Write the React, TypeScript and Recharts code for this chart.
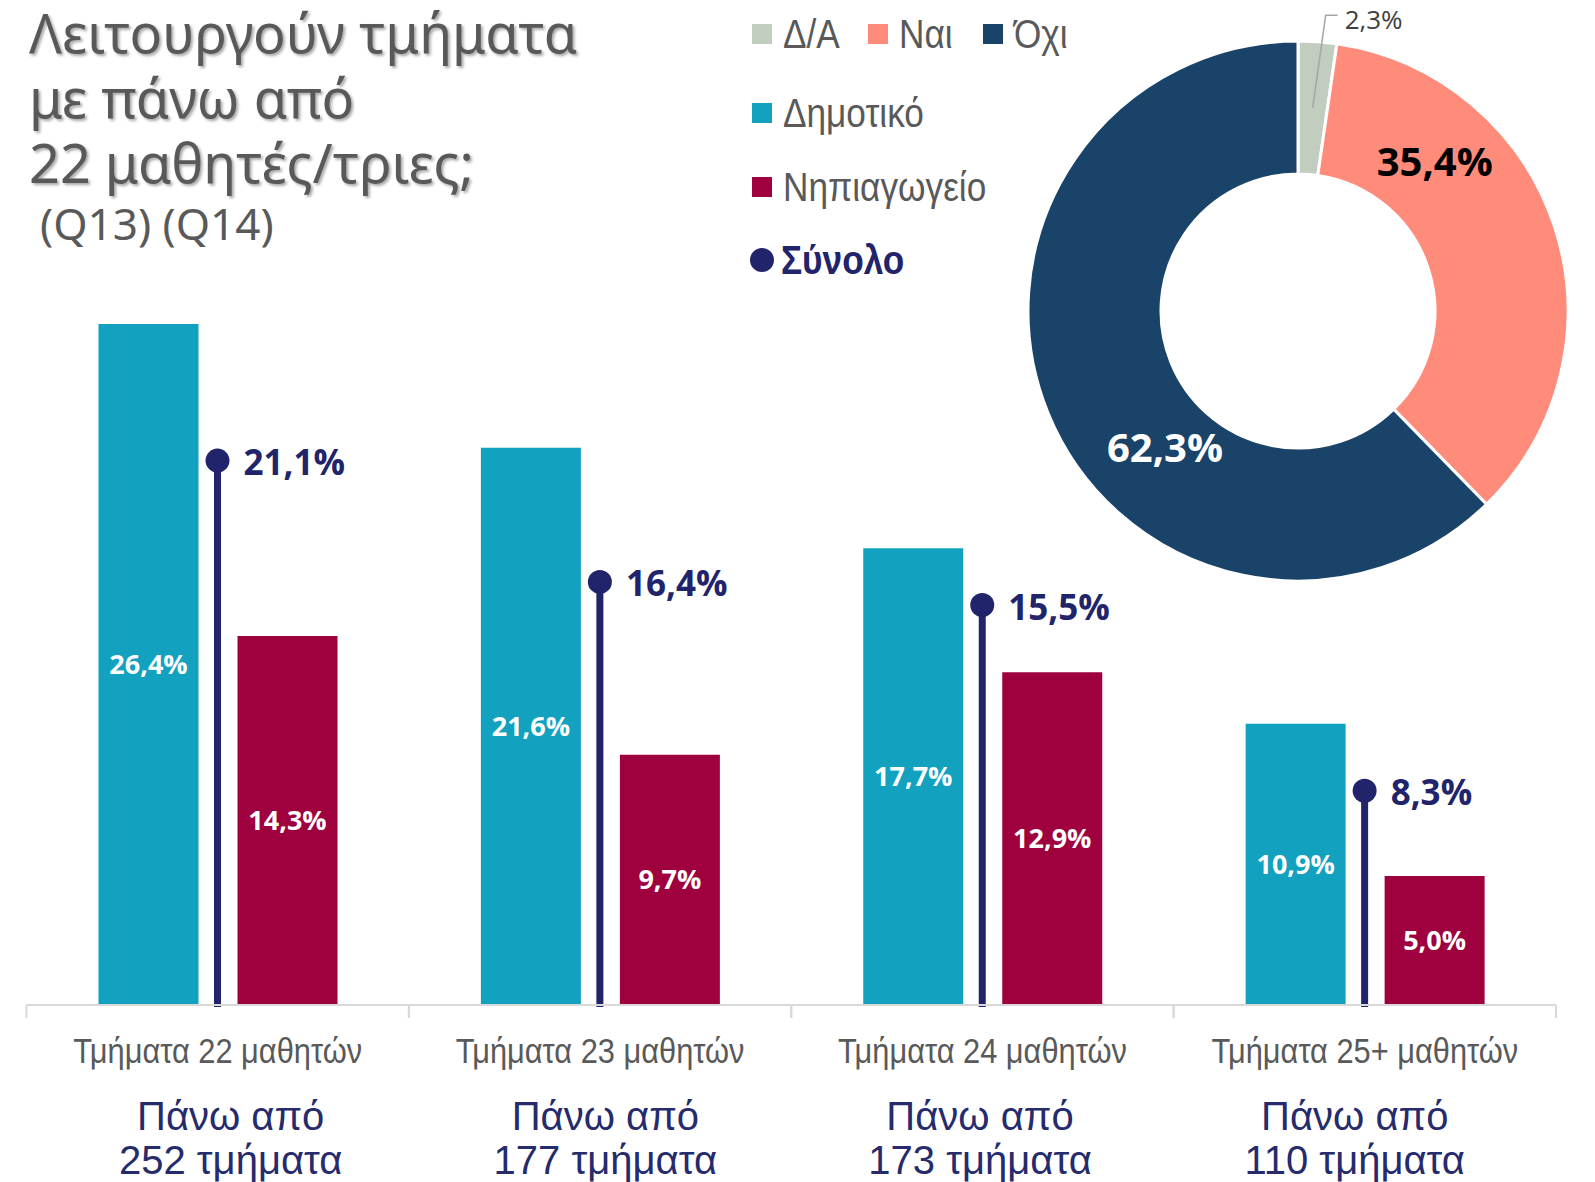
import React from 'react';
import { ComposedChart, Bar, XAxis, YAxis, LabelList, PieChart, Pie, Cell } from 'recharts';

// Ραβδόγραμμα: ποσοστά τμημάτων ανά βαθμίδα
const categories = ['Τμήματα 22 μαθητών', 'Τμήματα 23 μαθητών', 'Τμήματα 24 μαθητών', 'Τμήματα 25+ μαθητών'];
const classCounts = ['252 τμήματα', '177 τμήματα', '173 τμήματα', '110 τμήματα'];
const dimotiko = [26.4, 21.6, 17.7, 10.9];
const nipiagogeio = [14.3, 9.7, 12.9, 5.0];
const synolo = [21.1, 16.4, 15.5, 8.3];

// Ντόνατ: Δ/Α, Ναι, Όχι
const pieNames = ['Δ/Α', 'Ναι', 'Όχι'];
const pieValues = [2.3, 35.4, 62.3];

const C_DIM = '#12A1BF';
const C_NIP = '#9E013D';
const C_TOTAL = '#21246B';
const C_NAVY_TEXT = '#252B6C';
const PIE_COLORS = ['#C1CDBF', '#FF8B7B', '#1A4369'];
const GREY_TEXT = '#595959';
const SANS = "'Liberation Sans', Arial, sans-serif";
const BOLD = "'Open Sans', 'Noto Sans', sans-serif";

const barData = categories.map((cat, i) => ({
  cat,
  dim: dimotiko[i],
  nip: nipiagogeio[i],
  total: synolo[i],
}));

const pieData = pieNames.map((name, i) => ({ name, value: pieValues[i] }));

const fmt = (v: any) => `${Number(v).toFixed(1).replace('.', ',')}%`;

// θέσεις ετικετών στο ντόνατ (γωνία σε μοίρες, θέση μεταξύ εσωτερικής/εξωτερικής ακτίνας)
const pieLabelPos = [
  null,
  { angle: 47.8, r: 0.5, fill: '#000000' },
  { angle: 225.6, r: 0.4, fill: '#FFFFFF' },
];

const RAD = Math.PI / 180;
const polar = (cx: number, cy: number, r: number, a: number) => ({
  x: cx + r * Math.cos(-a * RAD),
  y: cy + r * Math.sin(-a * RAD),
});

const renderPieLabel = (props: any) => {
  const { cx, cy, innerRadius, outerRadius, midAngle, index, value } = props;
  const pos = pieLabelPos[index];
  if (!pos) {
    // μικρό κομμάτι: ετικέτα έξω με γραμμή οδηγό
    const start = polar(cx, cy, (innerRadius + outerRadius) / 2, midAngle);
    const elbow = polar(cx, cy, outerRadius * 1.1, midAngle - 1.2);
    return (
      <g>
        <polyline
          points={`${start.x},${start.y} ${elbow.x},${elbow.y} ${elbow.x + 12},${elbow.y}`}
          fill="none"
          stroke="#A6A6A6"
          strokeWidth={1.5}
        />
        <text x={elbow.x + 19} y={elbow.y + 14} fill="#404040" fontSize={26} fontFamily={BOLD}>
          {fmt(value)}
        </text>
      </g>
    );
  }
  const p = polar(cx, cy, innerRadius + (outerRadius - innerRadius) * pos.r, pos.angle);
  return (
    <text x={p.x} y={p.y} textAnchor="middle" dominantBaseline="central" fill={pos.fill} fontSize={40} fontWeight={700} fontFamily={BOLD}>
      {fmt(value)}
    </text>
  );
};

// Σύνολο: κάθετη γραμμή με κουκκίδα και ετικέτα
const Lollipop = (props: any) => {
  const { x, y, width, height, payload } = props;
  const cx = x + width / 2;
  return (
    <g>
      <line x1={cx} x2={cx} y1={y} y2={y + height + 2} stroke={C_TOTAL} strokeWidth={7} />
      <circle cx={cx} cy={y} r={12} fill={C_TOTAL} />
      <text x={cx + 26} y={y + 1} dominantBaseline="central" fill={C_TOTAL} fontSize={35} fontWeight={700} fontFamily={BOLD}>
        {fmt(payload.total)}
      </text>
    </g>
  );
};

const CategoryTick = (props: any) => {
  const { x, y, payload } = props;
  const idx = categories.indexOf(payload.value);
  const half = payload.offset || 191;
  const shift = 13 - 7.7 * idx;
  return (
    <g>
      <line x1={x - half} x2={x - half} y1={y} y2={y + 13} stroke="#D9D9D9" strokeWidth={2} />
      <line x1={x + half} x2={x + half} y1={y} y2={y + 13} stroke="#D9D9D9" strokeWidth={2} />
      <g transform={`translate(${x}, ${y + 46}) scale(0.88, 1)`}>
        <text x={0} y={0} textAnchor="middle" dominantBaseline="central" fill={GREY_TEXT} fontSize={35} fontFamily={SANS}>
          {payload.value}
        </text>
      </g>
      <text x={x + shift} y={y + 111} textAnchor="middle" dominantBaseline="central" fill={C_NAVY_TEXT} fontSize={40} fontFamily={SANS}>
        Πάνω από
      </text>
      <text x={x + shift} y={y + 155} textAnchor="middle" dominantBaseline="central" fill={C_NAVY_TEXT} fontSize={40} fontFamily={SANS}>
        {classCounts[idx]}
      </text>
    </g>
  );
};

// στοιχείο υπομνήματος: σήμα + κείμενο (ελαφρώς στενεμένο)
const LegendItem = ({ x, cy, color, label, round = false, bold = false }: any) => (
  <>
    <span
      style={{
        position: 'absolute',
        left: x,
        top: cy - (round ? 12 : 10),
        width: round ? 24 : 20,
        height: round ? 24 : 20,
        borderRadius: round ? 12 : 0,
        background: color,
      }}
    />
    <span
      style={{
        position: 'absolute',
        left: x + 31,
        top: cy - 23,
        height: 46,
        lineHeight: '46px',
        fontFamily: SANS,
        fontSize: 40,
        fontWeight: bold ? 700 : 400,
        color: bold ? C_TOTAL : GREY_TEXT,
        whiteSpace: 'nowrap',
        transform: 'scaleX(0.88)',
        transformOrigin: 'left center',
      }}
    >
      {label}
    </span>
  </>
);

const pieLegendX = [752, 868, 983];
const titleLines = ['Λειτουργούν τμήματα', 'με πάνω από', '22 μαθητές/τριες;'];

export default function App() {
  return (
    <div style={{ position: 'absolute', left: 0, top: 0, width: 1595, height: 1182, background: '#fff', overflow: 'hidden' }}>
      <ComposedChart
        width={1595}
        height={1182}
        data={barData}
        margin={{ top: 231, right: 39, bottom: 7, left: 26.5 }}
        barGap={39}
        style={{ position: 'absolute', left: 0, top: 0 }}
      >
        <XAxis
          xAxisId="main"
          dataKey="cat"
          height={170}
          interval={0}
          axisLine={{ stroke: '#D9D9D9', strokeWidth: 2 }}
          tickLine={false}
          tickSize={0}
          tickMargin={0}
          tick={<CategoryTick />}
        />
        <XAxis xAxisId="total" dataKey="cat" hide />
        <YAxis hide domain={[0, 30]} />
        <Bar xAxisId="main" dataKey="dim" fill={C_DIM} barSize={100} isAnimationActive={false}>
          <LabelList dataKey="dim" position="center" formatter={fmt} fill="#FFFFFF" fontSize={27} fontWeight={700} fontFamily={BOLD} />
        </Bar>
        <Bar xAxisId="main" dataKey="nip" fill={C_NIP} barSize={100} isAnimationActive={false}>
          <LabelList dataKey="nip" position="center" formatter={fmt} fill="#FFFFFF" fontSize={27} fontWeight={700} fontFamily={BOLD} />
        </Bar>
        <Bar xAxisId="total" dataKey="total" barSize={24} shape={<Lollipop />} isAnimationActive={false} />
      </ComposedChart>

      <div style={{ position: 'absolute', left: 1008, top: 0 }}>
        <PieChart width={580} height={620} margin={{ top: 0, right: 0, bottom: 0, left: 0 }}>
          <Pie
            data={pieData}
            dataKey="value"
            nameKey="name"
            cx={290}
            cy={311}
            innerRadius={137}
            outerRadius={270}
            startAngle={90}
            endAngle={-270}
            stroke="#FFFFFF"
            strokeWidth={3}
            label={renderPieLabel}
            labelLine={false}
            isAnimationActive={false}
          >
            {pieData.map((_, i) => (
              <Cell key={`c-${i}`} fill={PIE_COLORS[i]} />
            ))}
          </Pie>
        </PieChart>
      </div>

      {/* τίτλος */}
      {titleLines.map((t, i) => (
        <div
          key={t}
          style={{
            position: 'absolute',
            left: 29,
            top: 1 + i * 65,
            height: 62,
            fontFamily: "'Noto Sans', sans-serif",
            fontSize: 54,
            lineHeight: '62px',
            color: GREY_TEXT,
            textShadow: '2px 2px 3px rgba(0,0,0,0.35)',
            whiteSpace: 'nowrap',
          }}
        >
          {t}
        </div>
      ))}
      <div
        style={{
          position: 'absolute',
          left: 40,
          top: 198,
          fontFamily: "'Noto Sans', sans-serif",
          fontSize: 44,
          lineHeight: '50px',
          color: GREY_TEXT,
          whiteSpace: 'nowrap',
        }}
      >
        (Q13) (Q14)
      </div>

      {/* υπόμνημα */}
      {pieNames.map((n, i) => (
        <LegendItem key={n} x={pieLegendX[i]} cy={34} color={PIE_COLORS[i]} label={n} />
      ))}
      <LegendItem x={752} cy={113} color={C_DIM} label="Δημοτικό" />
      <LegendItem x={752} cy={187} color={C_NIP} label="Νηπιαγωγείο" />
      <LegendItem x={750} cy={260} color={C_TOTAL} label="Σύνολο" round bold />
    </div>
  );
}
